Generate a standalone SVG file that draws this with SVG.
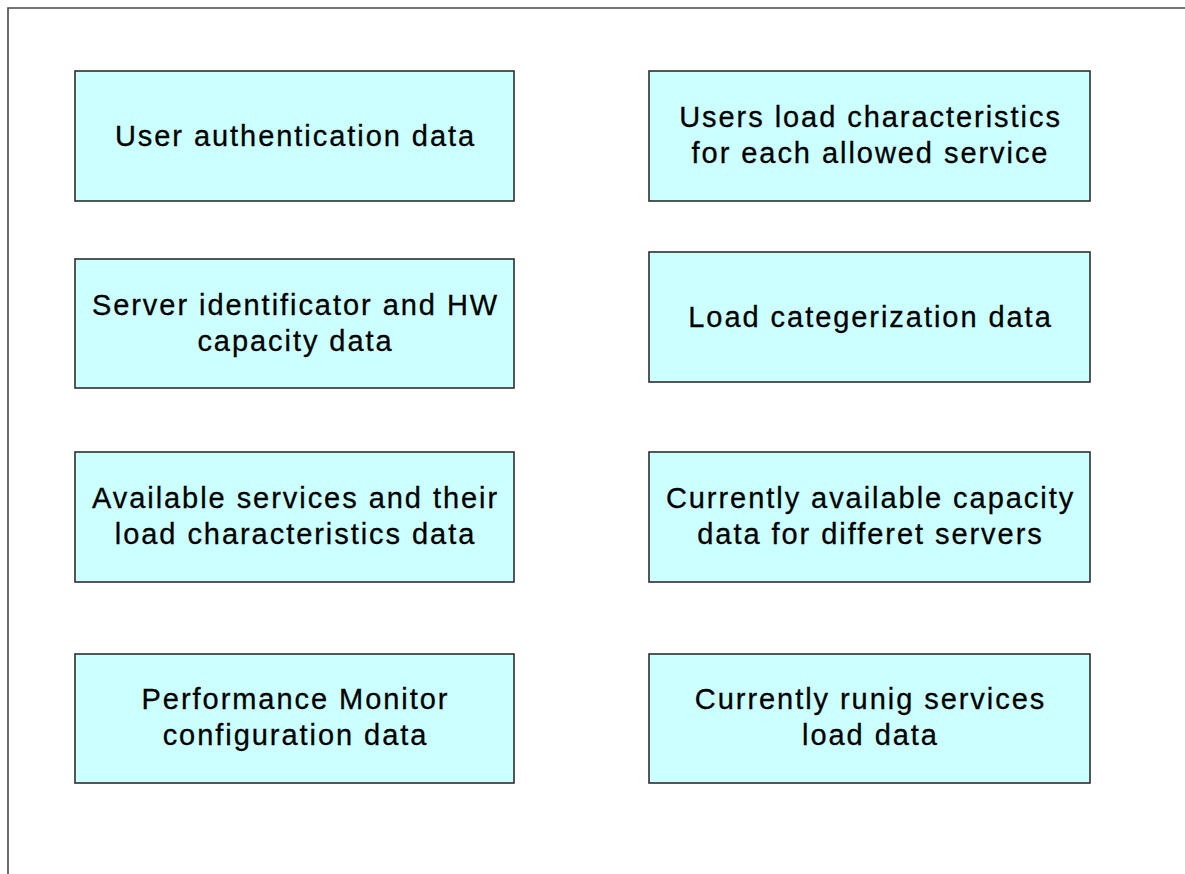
<svg xmlns="http://www.w3.org/2000/svg" width="1185" height="874" viewBox="0 0 1185 874">
<style>
.frame{fill:none;stroke:#484848;stroke-width:1.6}
.box{fill:#ccffff;stroke:#2e2e2e;stroke-width:1.6}
.lbl{font-family:"Liberation Sans",Arial,sans-serif;font-size:29px;letter-spacing:1.95px;fill:#000;stroke:#000;stroke-width:0.3;text-anchor:middle}
</style>
<rect width="1185" height="874" fill="#ffffff"/>
<path class="frame" d="M8,874 V8 H1185"/>
<g id="connectors"/>
<g id="n1"><rect class="box" x="75" y="71" width="439" height="130"/><text class="lbl" x="295.5" y="146">User authentication data</text></g>
<g id="n2"><rect class="box" x="649" y="71" width="441" height="130"/><text class="lbl" x="870.5" y="127">Users load characteristics</text><text class="lbl" x="870.5" y="163">for each allowed service</text></g>
<g id="n3"><rect class="box" x="75" y="259" width="439" height="129"/><text class="lbl" x="295.5" y="315">Server identificator and HW</text><text class="lbl" x="295.5" y="351">capacity data</text></g>
<g id="n4"><rect class="box" x="649" y="252" width="441" height="130"/><text class="lbl" x="870.5" y="327">Load categerization data</text></g>
<g id="n5"><rect class="box" x="75" y="452" width="439" height="130"/><text class="lbl" x="295.5" y="508">Available services and their</text><text class="lbl" x="295.5" y="544">load characteristics data</text></g>
<g id="n6"><rect class="box" x="649" y="452" width="441" height="130"/><text class="lbl" x="870.5" y="508">Currently available capacity</text><text class="lbl" x="870.5" y="544">data for differet servers</text></g>
<g id="n7"><rect class="box" x="75" y="654" width="439" height="129"/><text class="lbl" x="295.5" y="709">Performance Monitor</text><text class="lbl" x="295.5" y="745">configuration data</text></g>
<g id="n8"><rect class="box" x="649" y="654" width="441" height="129"/><text class="lbl" x="870.5" y="709">Currently runig services</text><text class="lbl" x="870.5" y="745">load data</text></g>
</svg>
